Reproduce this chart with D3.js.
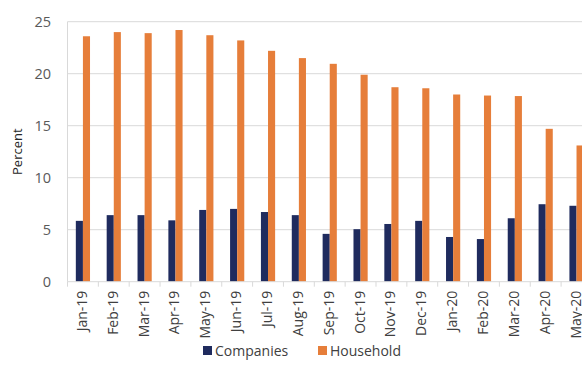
<!DOCTYPE html>
<html>
<head>
<meta charset="utf-8">
<script src="https://cdn.jsdelivr.net/npm/d3@7"></script>
<style>
  html, body { margin: 0; padding: 0; background: #fff; overflow: hidden; }
  svg { display: block; }
  text { font-family: "Open Sans", "Noto Sans", sans-serif; fill: #595959; }
</style>
</head>
<body>
<svg id="chart" width="582" height="388"></svg>
<script>
// Monthly rates (percent) by borrower type
const months = ["Jan-19","Feb-19","Mar-19","Apr-19","May-19","Jun-19","Jul-19","Aug-19",
                "Sep-19","Oct-19","Nov-19","Dec-19","Jan-20","Feb-20","Mar-20","Apr-20","May-20"];
const companies = [5.85, 6.4, 6.4, 5.9, 6.9, 7.0, 6.7, 6.4, 4.6, 5.05, 5.55, 5.85, 4.3, 4.1, 6.1, 7.45, 7.3];
const household = [23.6, 24.0, 23.9, 24.2, 23.7, 23.2, 22.2, 21.5, 20.95, 19.9, 18.7, 18.6, 18.0, 17.9, 17.85, 14.7, 13.1];
const seriesNames = ["Companies", "Household"];
const seriesColors = ["#1f2b5e", "#e67e3a"];
const yTicks = [0, 5, 10, 15, 20, 25];

const svg = d3.select("#chart");
const plotLeft = 67.5, step = 30.85;
const plotRight = plotLeft + months.length * step;
const plotTop = 21.7, plotBottom = 281.7;

const x0 = d3.scaleBand().domain(months).range([plotLeft, plotRight])
  .paddingInner(0.54).paddingOuter(0.27);
const x1 = d3.scaleBand().domain(seriesNames).range([0, x0.bandwidth()]);
const y = d3.scaleLinear().domain([0, 25]).range([plotBottom, plotTop]);
const color = d3.scaleOrdinal().domain(seriesNames).range(seriesColors);

// Horizontal gridlines
svg.append("g").selectAll("line").data(yTicks.filter(t => t > 0)).join("line")
  .attr("x1", plotLeft).attr("x2", plotRight)
  .attr("y1", d => y(d)).attr("y2", d => y(d))
  .attr("stroke", "#d9d9d9").attr("stroke-width", 1);

// Vertical axis line
svg.append("line")
  .attr("x1", plotLeft).attr("x2", plotLeft).attr("y1", plotTop).attr("y2", plotBottom)
  .attr("stroke", "#d9d9d9");

// Y tick labels
svg.append("g").selectAll("text").data(yTicks).join("text")
  .attr("x", 51).attr("y", d => y(d)).attr("dy", "0.35em")
  .attr("text-anchor", "end").attr("font-size", 14.5).text(d => d);

// Y axis title
svg.append("text")
  .attr("transform", `translate(22,${(plotTop + plotBottom) / 2}) rotate(-90)`)
  .attr("text-anchor", "middle").attr("font-size", 13)
  .style("fill", "#262626").text("Percent");

// Bars
const rows = months.map((m, i) => ({ month: m, values: [companies[i], household[i]] }));
const groups = svg.append("g").selectAll("g").data(rows).join("g")
  .attr("transform", d => `translate(${x0(d.month)},0)`);
groups.selectAll("rect")
  .data(d => seriesNames.map((s, k) => ({ series: s, value: d.values[k] })))
  .join("rect")
  .attr("x", d => x1(d.series))
  .attr("width", x1.bandwidth())
  .attr("y", d => y(d.value))
  .attr("height", d => y(0) - y(d.value))
  .attr("fill", d => color(d.series));

// X axis baseline and category boundary ticks
svg.append("line")
  .attr("x1", plotLeft).attr("x2", plotRight).attr("y1", plotBottom).attr("y2", plotBottom)
  .attr("stroke", "#d9d9d9");
const bounds = d3.range(months.length + 1).map(i => plotLeft + i * x0.step());
svg.append("g").selectAll("line").data(bounds).join("line")
  .attr("x1", d => d).attr("x2", d => d)
  .attr("y1", plotBottom).attr("y2", plotBottom + 5)
  .attr("stroke", "#d9d9d9");

// Category labels, rotated
svg.append("g").selectAll("text").data(months).join("text")
  .attr("transform", d => `translate(${x0(d) + x0.bandwidth() / 2 + 4},${plotBottom + 9}) rotate(-90)`)
  .attr("text-anchor", "end").attr("font-size", 14)
  .style("fill", "#404040").text(d => d);

// Legend
const legend = svg.append("g").attr("transform", "translate(203,351)");
const items = [{ name: "Companies", x: 0 }, { name: "Household", x: 115 }];
items.forEach(it => {
  legend.append("rect").attr("x", it.x).attr("y", -5).attr("width", 9).attr("height", 9)
    .attr("fill", color(it.name));
  legend.append("text").attr("x", it.x + 12).attr("y", 0).attr("dy", "0.35em")
    .attr("font-size", 14).style("fill", "#404040").text(it.name);
});
</script>
</body>
</html>
